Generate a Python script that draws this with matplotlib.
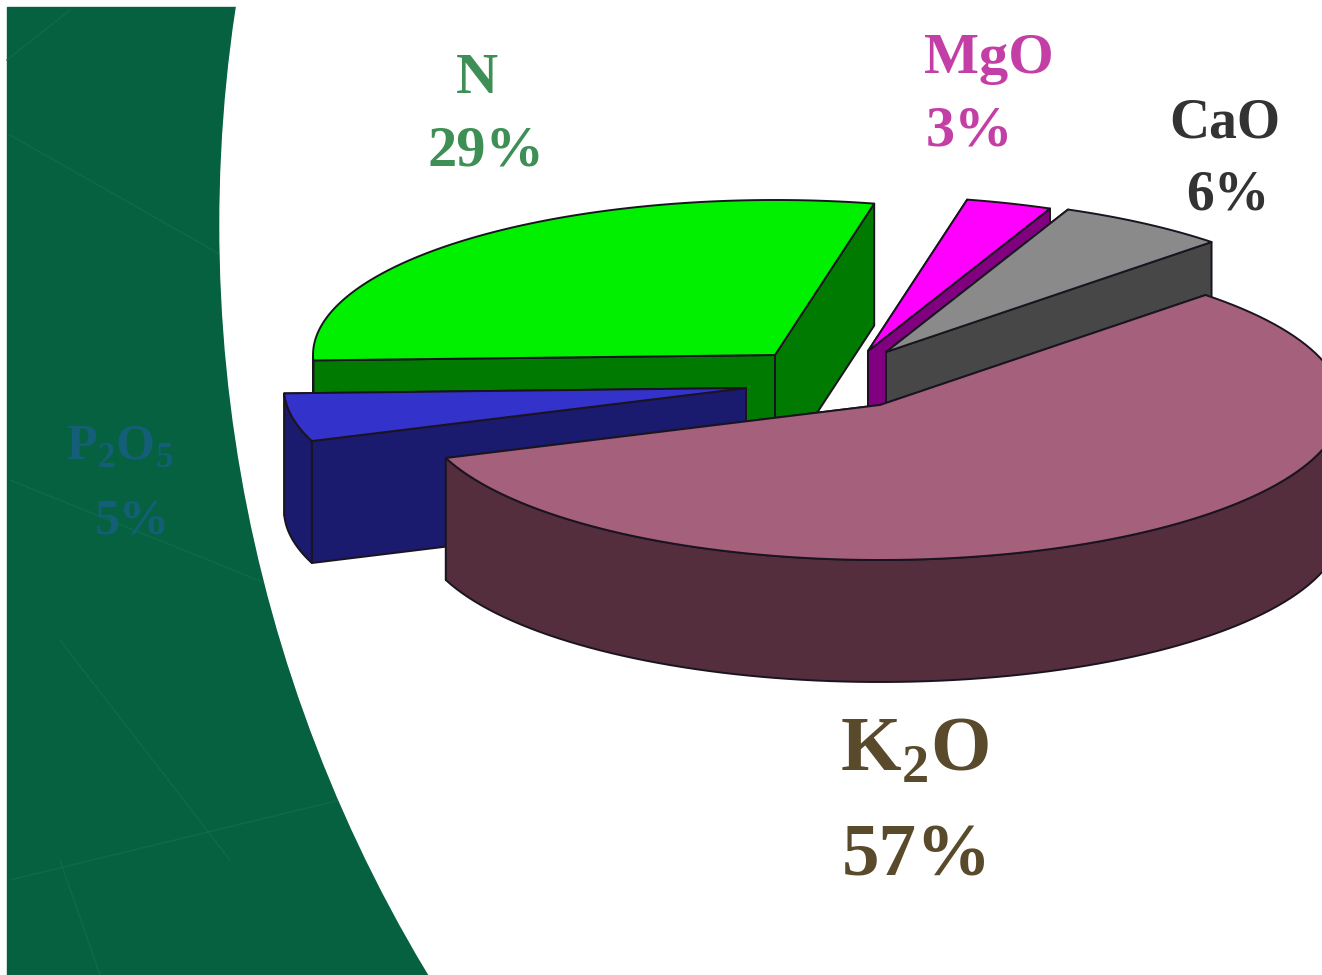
import numpy as np
import matplotlib
matplotlib.use('Agg')
import matplotlib.pyplot as plt
from matplotlib.patches import Polygon, Rectangle, Circle

plt.rcParams['font.family'] = ['Liberation Serif', 'DejaVu Serif']
plt.rcParams['mathtext.fontset'] = 'custom'
plt.rcParams['mathtext.bf'] = 'Liberation Serif:bold'

# Data
names = ['N', 'MgO', 'CaO', 'K2O', 'P2O5']
values = [29, 3, 6, 57, 5]

# Look of each slice (top colour, side colour, where the exploded slice sits)
top_colors = ['#00F000', '#FF00FF', '#8A8A8A', '#A5607C', '#3333CC']
side_colors = ['#007A00', '#800080', '#474747', '#552E3E', '#1A1A6E']
centers = [(775, 355), (868, 351), (886, 352), (880, 405), (746, 388)]
layers = [2, 3, 4, 6, 5]  # K2O sits in front of everything

rx, ry, depth = 462, 155, 122
start_angle = 182

fig = plt.figure(figsize=(13.22, 9.75), dpi=100)
ax = fig.add_axes([0, 0, 1, 1])
ax.set_xlim(0, 1322)
ax.set_ylim(975, 0)
ax.axis('off')

# Slide background
ax.add_patch(Rectangle((7, 7), 1315, 968, color='#05613F', zorder=0))
for x0, y0, x1, y1 in [(7, 60, 70, 10), (10, 135, 230, 260), (10, 480, 270, 585),
                       (60, 640, 230, 860), (10, 880, 340, 800), (100, 975, 60, 860)]:
    ax.plot([x0, x1], [y0, y1], color='#0F6A4A', lw=1, zorder=0.5)
ax.add_patch(Circle((1670, 225), 1450, color='white', zorder=1))


def rim(cx, cy, a0, a1):
    t = np.radians(np.linspace(a0, a1, 120))
    return np.column_stack([cx + rx * np.cos(t), cy - ry * np.sin(t)])


def draw_slice(cx, cy, a0, a1, top, side, z):
    style = dict(edgecolor='#1A1420', lw=1.4, joinstyle='round')
    down = np.array([0, depth])
    # flat walls first, the one nearer the viewer last
    ends = sorted((a0, a1), key=lambda a: -np.sin(np.radians(a)))
    for a in ends:
        edge = np.array([[cx, cy], rim(cx, cy, a, a)[0]])
        wall = np.vstack([edge, edge[::-1] + down])
        ax.add_patch(Polygon(wall, facecolor=side, zorder=z, **style))
    # curved wall, only the part that faces the viewer
    pts = rim(cx, cy, a0, a1)
    front = pts[pts[:, 1] >= cy]
    if len(front) > 1:
        wall = np.vstack([front, front[::-1] + down])
        ax.add_patch(Polygon(wall, facecolor=side, zorder=z + 0.1, **style))
    ax.add_patch(Polygon(np.vstack([[cx, cy], pts]), facecolor=top, zorder=z + 0.2, **style))


angle = start_angle
for i, v in enumerate(values):
    a_end = angle - v / sum(values) * 360
    draw_slice(centers[i][0], centers[i][1], angle, a_end,
               top_colors[i], side_colors[i], layers[i])
    angle = a_end

# Labels
bold = dict(fontweight='bold', ha='center', va='center', zorder=10)
ax.text(477, 79, 'N', color='#3E8F55', fontsize=42, **bold)
ax.text(486, 152, '29%', color='#3E8F55', fontsize=42, **bold)
ax.text(989, 59, 'MgO', color='#C33FA6', fontsize=42, **bold)
ax.text(969, 132, '3%', color='#C33FA6', fontsize=42, **bold)
ax.text(1225, 124, 'CaO', color='#333333', fontsize=40, **bold)
ax.text(1228, 196, '6%', color='#333333', fontsize=40, **bold)
ax.text(915, 752, r'K$_{\mathbf{2}}$O', color='#5A4A2C', fontsize=56, **bold)
ax.text(917, 857, '57%', color='#5A4A2C', fontsize=54, **bold)
ax.text(120, 447, r'P$_{\mathbf{2}}$O$_{\mathbf{5}}$', color='#145E78', fontsize=36, **bold)
ax.text(132, 522, '5%', color='#145E78', fontsize=36, **bold)

fig.savefig('out.png', dpi=100)
